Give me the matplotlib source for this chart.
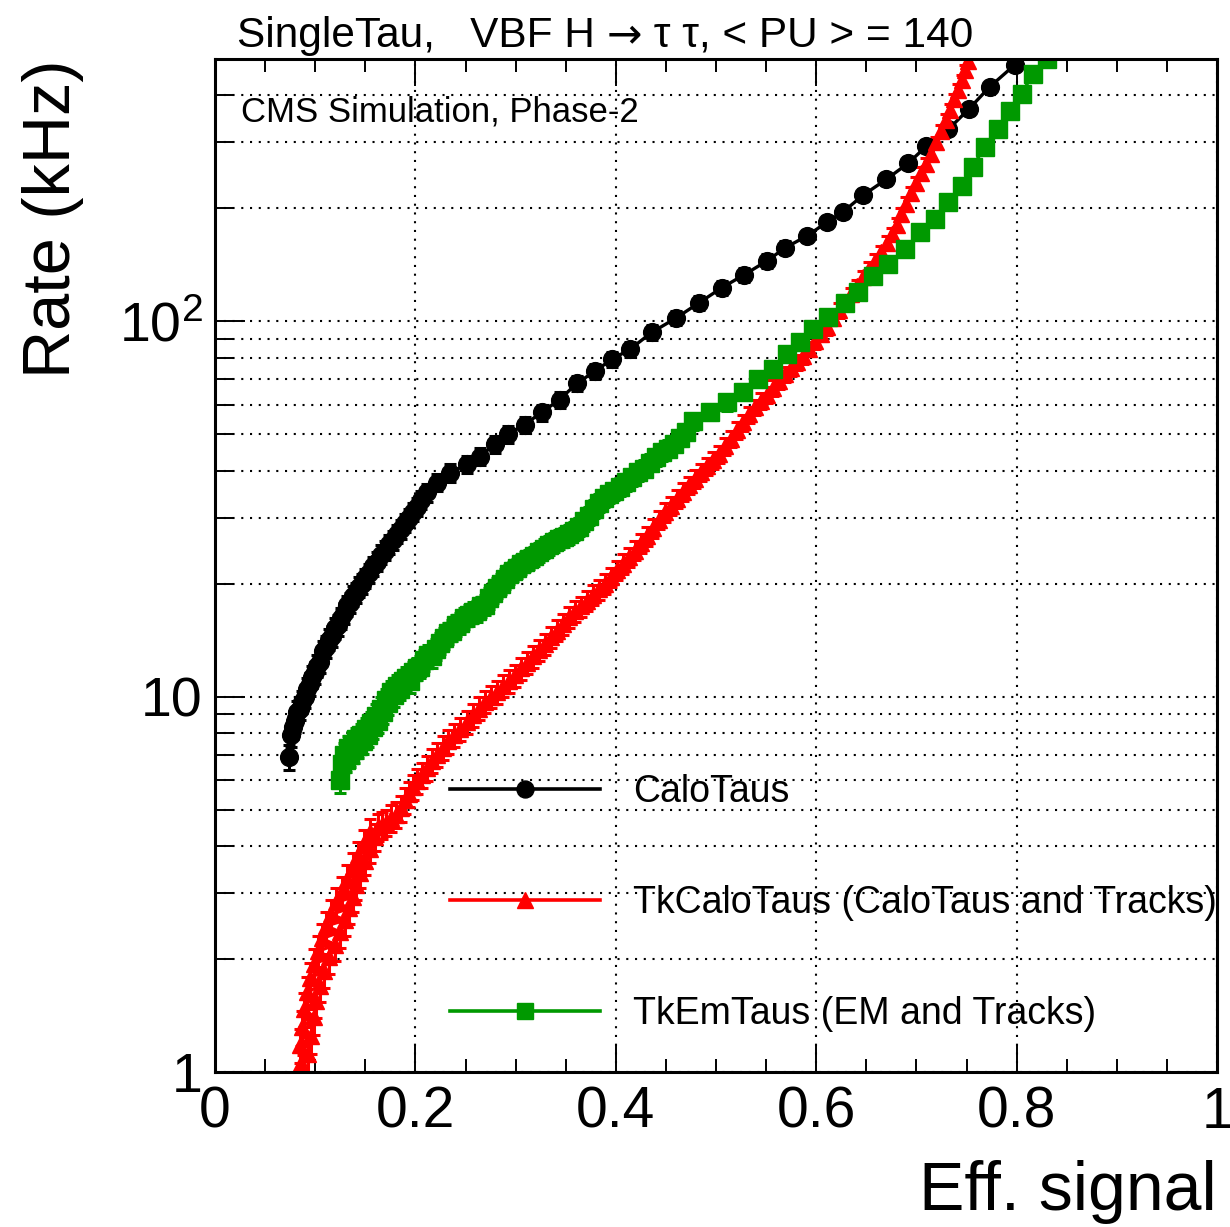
import numpy as np
import matplotlib
matplotlib.use("Agg")
import matplotlib.pyplot as plt
from matplotlib.ticker import FixedLocator, MultipleLocator, LogLocator, NullFormatter, FuncFormatter
from matplotlib.lines import Line2D

plt.rcParams['font.family'] = ['Liberation Sans', 'DejaVu Sans']
plt.rcParams['mathtext.fontset'] = 'custom'
plt.rcParams['mathtext.rm'] = 'Liberation Sans'
plt.rcParams['mathtext.it'] = 'Liberation Sans:italic'
plt.rcParams['mathtext.default'] = 'regular'

# ---------------- data ----------------
calo_eff = [0.074, 0.076, 0.078, 0.080, 0.082, 0.085, 0.087, 0.090, 0.092, 0.095,
            0.097, 0.100, 0.102, 0.105, 0.108, 0.111, 0.114, 0.117, 0.120, 0.123,
            0.126, 0.129, 0.132, 0.135, 0.138, 0.141, 0.144, 0.147, 0.150, 0.154,
            0.158, 0.162, 0.166, 0.170, 0.174, 0.178, 0.182, 0.186, 0.190, 0.194,
            0.198, 0.202, 0.206, 0.212, 0.222, 0.235, 0.251, 0.264, 0.279, 0.292,
            0.309, 0.326, 0.344, 0.361, 0.379, 0.396, 0.414, 0.436, 0.460, 0.483,
            0.506, 0.528, 0.551, 0.569, 0.591, 0.611, 0.627, 0.647, 0.670, 0.692,
            0.710, 0.732, 0.752, 0.773, 0.798]
calo_rate = [6.9, 7.9, 8.3, 8.6, 9.1, 9.3, 9.7, 10.0, 10.5, 10.8,
             11.3, 11.6, 12.1, 12.4, 13.2, 13.6, 14.2, 14.5, 15.2, 15.5,
             16.2, 16.7, 17.5, 17.8, 18.6, 18.9, 19.6, 20.0, 20.7, 21.3,
             22.3, 22.9, 23.9, 24.5, 25.5, 26.1, 27.2, 27.9, 29.1, 29.9,
             31.1, 32.0, 33.4, 35.0, 37.2, 39.5, 41.6, 43.6, 47.0, 50.0,
             53.1, 57.2, 61.9, 68.3, 73.6, 79.2, 84.2, 93.5, 102, 112,
             123, 133, 145, 157, 169, 184, 196, 217, 239, 264,
             293, 325, 367, 421, 482]

tkcalo_eff = [0.088, 0.086, 0.093, 0.085, 0.096, 0.087, 0.099, 0.089, 0.101, 0.092,
              0.105, 0.095, 0.109, 0.099, 0.114, 0.103, 0.120, 0.107, 0.125, 0.111,
              0.130, 0.116, 0.134, 0.121, 0.138, 0.127, 0.141, 0.132, 0.145, 0.138,
              0.150, 0.143, 0.155, 0.149, 0.160, 0.155, 0.163, 0.167, 0.171, 0.176,
              0.181, 0.186, 0.190, 0.194, 0.198, 0.202, 0.207, 0.212, 0.217, 0.222,
              0.228, 0.233, 0.239, 0.245, 0.251, 0.257, 0.263, 0.269, 0.275, 0.281,
              0.287, 0.293, 0.299, 0.305, 0.311, 0.317, 0.323, 0.329, 0.335, 0.341,
              0.347, 0.353, 0.359, 0.365, 0.371, 0.377, 0.383, 0.389, 0.395, 0.401,
              0.407, 0.413, 0.419, 0.425, 0.431, 0.437, 0.443, 0.449, 0.455, 0.461,
              0.467, 0.473, 0.479, 0.485, 0.491, 0.497, 0.503, 0.509, 0.515, 0.521,
              0.527, 0.533, 0.539, 0.545, 0.551, 0.557, 0.563, 0.569, 0.575, 0.581,
              0.587, 0.593, 0.599, 0.605, 0.611, 0.617, 0.623, 0.629, 0.635, 0.641,
              0.647, 0.653, 0.659, 0.665, 0.671, 0.676, 0.681, 0.685, 0.690, 0.695,
              0.700, 0.705, 0.710, 0.715, 0.720, 0.725, 0.730, 0.734, 0.738, 0.742,
              0.746, 0.749, 0.751]
tkcalo_rate = [1.00, 1.06, 1.12, 1.18, 1.25, 1.32, 1.40, 1.47, 1.55, 1.63,
               1.70, 1.78, 1.86, 1.94, 2.02, 2.10, 2.18, 2.27, 2.36, 2.45,
               2.54, 2.63, 2.73, 2.83, 2.93, 3.04, 3.15, 3.27, 3.39, 3.52,
               3.65, 3.79, 3.93, 4.07, 4.22, 4.36, 4.50, 4.55, 4.62, 4.75,
               4.85, 5.05, 5.30, 5.50, 5.75, 5.95, 6.20, 6.45, 6.75, 7.00,
               7.30, 7.60, 7.90, 8.20, 8.55, 8.95, 9.30, 9.70, 10.0, 10.3,
               10.7, 11.0, 11.4, 11.9, 12.3, 12.8, 13.3, 13.8, 14.4, 15.0,
               15.6, 16.3, 16.9, 17.4, 18.0, 18.7, 19.3, 20.0, 20.8, 21.7,
               22.6, 23.5, 24.5, 25.6, 26.8, 28.1, 29.6, 31.0, 32.3, 33.7,
               35.2, 36.6, 38.1, 39.6, 41.1, 42.6, 44.3, 46.5, 48.6, 51.2,
               53.8, 56.5, 59.0, 61.3, 63.6, 66.5, 69.5, 72.4, 75.0, 77.8,
               80.7, 84.5, 88.5, 92.5, 96.5, 102, 107, 112, 118, 124,
               131, 138, 145, 153, 162, 171, 181, 193, 206, 220,
               234, 248, 263, 280, 300, 322, 344, 366, 390, 414,
               440, 466, 494]

tkem_eff = [0.125, 0.127, 0.129, 0.131, 0.133, 0.135, 0.137, 0.139, 0.141, 0.143,
            0.146, 0.148, 0.151, 0.153, 0.156, 0.158, 0.161, 0.163, 0.166, 0.168,
            0.171, 0.173, 0.176, 0.179, 0.182, 0.185, 0.188, 0.191, 0.195, 0.198,
            0.202, 0.205, 0.209, 0.213, 0.217, 0.221, 0.225, 0.229, 0.233, 0.237,
            0.241, 0.245, 0.249, 0.253, 0.257, 0.261, 0.265, 0.269, 0.273, 0.277,
            0.281, 0.285, 0.289, 0.293, 0.297, 0.301, 0.305, 0.309, 0.313, 0.318,
            0.323, 0.328, 0.333, 0.338, 0.343, 0.348, 0.353, 0.358, 0.363, 0.368,
            0.373, 0.378, 0.383, 0.388, 0.393, 0.398, 0.404, 0.410, 0.416, 0.422,
            0.428, 0.434, 0.440, 0.446, 0.452, 0.458, 0.464, 0.470, 0.477, 0.494,
            0.511, 0.527, 0.542, 0.557, 0.571, 0.584, 0.597, 0.612, 0.629, 0.642,
            0.657, 0.672, 0.689, 0.704, 0.719, 0.732, 0.746, 0.756, 0.768, 0.781,
            0.793, 0.805, 0.816, 0.830]
tkem_rate = [6.0, 6.6, 7.0, 6.8, 7.3, 7.0, 7.5, 7.2, 7.7, 7.4,
             7.9, 7.6, 8.2, 7.9, 8.5, 8.3, 8.9, 8.6, 9.3, 9.1,
             9.8, 9.6, 10.3, 10.1, 10.7, 10.5, 11.0, 11.2, 11.0, 11.6,
             11.9, 12.0, 12.5, 12.9, 12.8, 13.4, 13.9, 14.3, 14.8, 15.0,
             15.5, 15.7, 16.2, 16.5, 16.8, 16.9, 17.4, 17.6, 18.3, 18.9,
             19.5, 20.0, 20.6, 21.2, 21.6, 22.0, 22.5, 22.9, 23.2, 23.7,
             24.3, 24.8, 25.3, 25.8, 26.3, 26.6, 27.1, 27.7, 28.4, 29.3,
             30.3, 31.6, 32.8, 33.8, 34.6, 35.3, 36.3, 37.3, 38.5, 39.6,
             40.5, 42.0, 43.5, 44.8, 45.8, 47.2, 49.0, 50.8, 54.1, 57.5,
             60.8, 65.0, 70.0, 74.5, 81.7, 87.9, 95.2, 103, 112, 120,
             132, 142, 156, 173, 187, 208, 229, 258, 291, 325,
             363, 403, 456, 500]

labels = ["CaloTaus", "TkCaloTaus (CaloTaus and Tracks)", "TkEmTaus (EM and Tracks)"]
colors = ["black", "#ff0000", "#009900"]
markers = ["o", "^", "s"]
yticks = [1, 10, 100]
ytick_labels = ["1", "10", "$10^{2}$"]
title_parts = ["SingleTau,   VBF H ", "\u2192", " \u03c4 \u03c4, < PU > = 140"]
cms_text = "CMS Simulation, Phase-2"

REL0 = 0.11  # relative statistical uncertainty scale at 1 kHz

# ---------------- figure ----------------
W, H = 1230, 1227
fig = plt.figure(figsize=(W / 100, H / 100), dpi=100)
ax = fig.add_axes([215 / W, 1 - 1072 / H, (1217 - 215) / W, (1072 - 59) / H])

ax.set_yscale('log')
ax.set_xlim(0, 1)
ax.set_ylim(1, 500)

grid_kw = dict(color='black', linestyle=(0, (1.0, 3.2)), linewidth=1.5)
ax.xaxis.set_major_locator(MultipleLocator(0.2))
ax.xaxis.set_minor_locator(MultipleLocator(0.05))
ax.yaxis.set_major_locator(FixedLocator(yticks))
ax.yaxis.set_minor_locator(LogLocator(base=10, subs=np.arange(2, 10), numticks=20))
ax.yaxis.set_minor_formatter(NullFormatter())
ax.yaxis.set_major_formatter(FuncFormatter(
    lambda v, p: ytick_labels[yticks.index(int(round(v)))] if int(round(v)) in yticks else ""))
ax.xaxis.set_major_formatter(FuncFormatter(lambda v, p: "%g" % round(v, 2)))
ax.grid(True, which='major', axis='x', **grid_kw)
ax.grid(True, which='both', axis='y', **grid_kw)
ax.set_axisbelow(True)

series = [(calo_eff, calo_rate, 12.8), (tkcalo_eff, tkcalo_rate, 11.5), (tkem_eff, tkem_rate, 12.8)]
for (xs, ys, ms), c, m in zip(series, colors, markers):
    ys = np.asarray(ys, float)
    err = ys * REL0 * ys ** -0.2
    ax.errorbar(xs, ys, yerr=err, fmt='-', marker=m, color=c, ms=ms, mec=c, mfc=c,
                lw=2.4, elinewidth=2.2, capsize=4.5, capthick=2.2)

ax.tick_params(axis='both', which='both', direction='in', top=True, right=False)
ax.tick_params(axis='x', which='major', length=19.5, width=1.4, labelsize=41, pad=10)
ax.tick_params(axis='x', which='minor', length=9.5, width=1.4)
ax.tick_params(axis='y', which='major', length=21.5, width=1.4, labelsize=40, pad=9)
ax.tick_params(axis='y', which='minor', length=13, width=1.4)
for s in ax.spines.values():
    s.set_linewidth(2.2)

ax.set_xlabel("Eff. signal", fontsize=49, loc='right')
ax.xaxis.label.set_va('baseline')
ax.xaxis.set_label_coords(1.0, (1072 - 1210) / 1013)
ax.set_ylabel("Rate (kHz)", fontsize=48, loc='top')
ax.yaxis.label.set_va('baseline')
ax.yaxis.set_label_coords((70 - 215) / 1002, 1.0)

# title built from pieces so the arrow can use a font with a full-size arrow
renderer = fig.canvas.get_renderer()
fams = [['Liberation Sans', 'DejaVu Sans'], ['DejaVu Sans'], ['Liberation Sans', 'DejaVu Sans']]
pieces = [fig.text(0, 1 - 47 / H, t, fontsize=30.5, family=f, ha='left', va='baseline')
          for t, f in zip(title_parts, fams)]
widths = [p.get_window_extent(renderer).width for p in pieces]
x0 = 605 - sum(widths) / 2
for p, w in zip(pieces, widths):
    p.set_x(x0 / W)
    x0 += w

ax.text((241 - 215) / 1002, (1072 - 122) / 1013, cms_text, fontsize=25,
        ha='left', va='baseline', transform=ax.transAxes)

handles = [Line2D([], [], color=c, marker=m, ms=12.2, lw=2.6) for c, m in zip(colors, markers)]
ax.legend(handles, labels, loc='upper left', bbox_to_anchor=((450 - 215) / 1002, 0.294),
          frameon=False, fontsize=27, handlelength=4.0, handletextpad=0.88,
          labelspacing=2.0, borderpad=0, borderaxespad=0, numpoints=1)

fig.savefig("out.png", dpi=100)
